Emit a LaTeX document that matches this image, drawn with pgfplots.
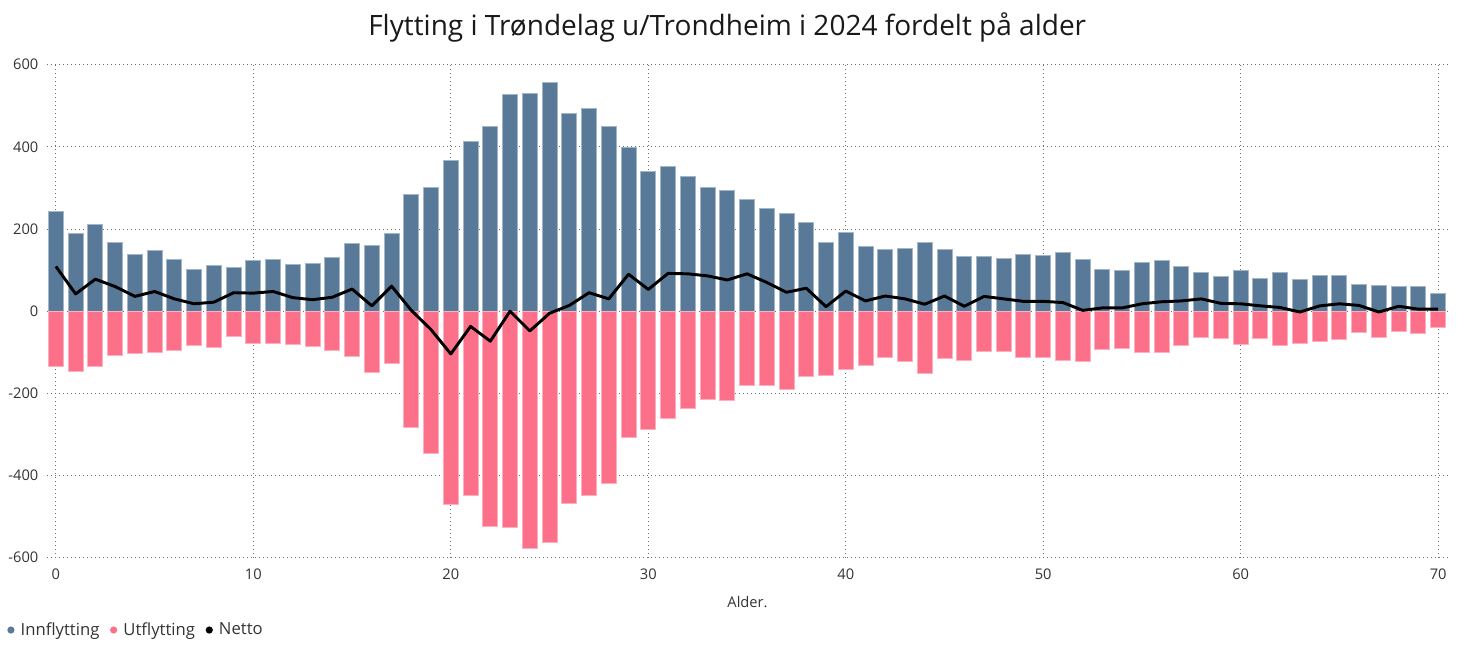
\documentclass[border=0pt]{standalone}
\usepackage{fontspec}
\setmainfont{Open Sans}
\usepackage{pgfplots}
\usepackage{pgfplotstable}
\pgfplotsset{compat=1.18}
\definecolor{innc}{HTML}{587A98}
\definecolor{utc}{HTML}{FD7089}
\definecolor{gridc}{HTML}{6E6E6E}
\definecolor{labc}{HTML}{333333}

% alder, innflytting, utflytting, netto
\pgfplotstableread{
age inn ut net
0 243 -134 109
1 189 -147 42
2 212 -134 78
3 168 -108 60
4 139 -103 36
5 148 -100 48
6 125 -95 30
7 101 -83 18
8 111 -89 22
9 107 -62 45
10 123 -79 44
11 127 -79 48
12 113 -80 33
13 115 -87 28
14 130 -96 34
15 165 -111 54
16 161 -148 13
17 189 -128 61
18 285 -283 2
19 301 -346 -45
20 366 -470 -104
21 412 -449 -37
22 450 -523 -73
23 528 -526 0
24 529 -577 -48
25 557 -562 -5
26 481 -467 14
27 493 -448 45
28 449 -419 30
29 398 -308 90
30 341 -288 53
31 353 -261 92
32 329 -238 91
33 301 -215 86
34 293 -217 76
35 272 -181 91
36 250 -180 70
37 237 -191 46
38 216 -160 56
39 168 -157 11
40 191 -142 49
41 157 -132 25
42 150 -113 37
43 152 -122 30
44 168 -151 17
45 151 -114 37
46 133 -121 12
47 133 -97 36
48 129 -99 30
49 137 -113 24
50 136 -112 24
51 142 -121 21
52 125 -123 2
53 102 -94 8
54 99 -91 8
55 119 -101 18
56 124 -101 23
57 108 -83 25
58 93 -63 30
59 85 -66 19
60 98 -80 18
61 80 -67 13
62 93 -84 9
63 77 -79 -2
64 86 -73 13
65 88 -70 18
66 65 -51 14
67 62 -64 -2
68 61 -49 12
69 59 -54 5
70 44 -39 5
}\flytting

\begin{document}
\begin{tikzpicture}[x=0.75pt,y=0.75pt]
% page = 1460 x 653 px, axis box starts at (47,95.3) px
\useasboundingbox (-47,-95.3) rectangle (1413,557.7);
\begin{axis}[
    anchor=south west,
    scale only axis,
    width=1050.75pt, height=369.75pt,
    xmin=-0.45, xmax=70.5,
    ymin=-600, ymax=600,
    xtick={0,10,...,70},
    ytick={-600,-400,...,600},
    axis line style={draw=none},
    major tick length=0pt,
    grid=major,
    major grid style={gridc, line width=0.75pt, dash pattern=on 0.75pt off 2.25pt},
    /pgf/number format/assume math mode=true,
    ticklabel style={font=\fontsize{11}{13}\selectfont, text=labc},
    xticklabel style={yshift=-5pt},
    yticklabel style={xshift=-3pt},
    xlabel={Alder.},
    xlabel style={font=\fontsize{11}{13}\selectfont, text=labc,
        at={(axis description cs:0.5,-0.0899)}, anchor=center},
    title={Flytting i Trøndelag u/Trondheim i 2024 fordelt på alder},
    title style={font=\fontsize{21}{25}\selectfont, text=black!90,
        at={(axis description cs:0.4855,1.044)}, anchor=base},
    legend columns=3,
    legend style={draw=none, fill=none, inner sep=0pt,
        at={(axis description cs:-0.0285,-0.1467)}, anchor=west,
        font=\fontsize{12.5}{15}\selectfont, text=labc,
        /tikz/every even column/.append style={column sep=6pt}},
    legend cell align=left,
    legend image code/.code={\fill[#1, draw=none] (2.7pt,0pt) circle (2.7pt);
        \path[draw=none, fill=none] (0pt,-1pt) rectangle (8pt,1pt);},
]
\addplot[ybar, bar width=11.25pt, bar shift=0pt, fill=innc, draw=innc!55!white,
    line width=0.75pt, forget plot] table[x=age, y=inn] {\flytting};
\addplot[ybar, bar width=11.25pt, bar shift=0pt, fill=utc, draw=utc!55!white,
    line width=0.75pt, forget plot] table[x=age, y=ut] {\flytting};
\addplot[sharp plot, black, line width=2.2pt, line join=round, forget plot]
    table[x=age, y=net] {\flytting};
\addlegendimage{innc}
\addlegendentry{Innflytting}
\addlegendimage{utc}
\addlegendentry{Utflytting}
\addlegendimage{black}
\addlegendentry{Netto}
\end{axis}
\end{tikzpicture}
\end{document}
